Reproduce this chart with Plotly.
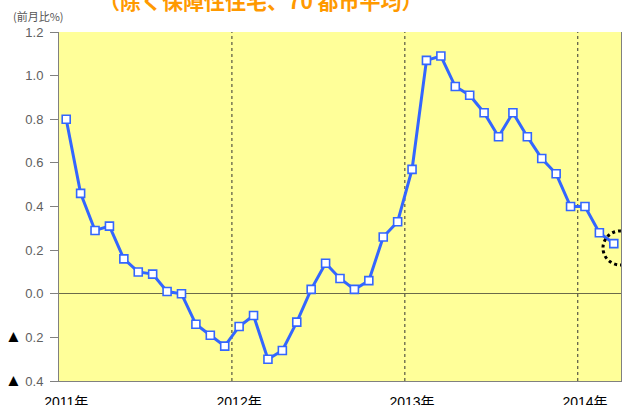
import plotly.graph_objects as go

# Monthly change, Jan 2011 - Mar 2014 (%)
years = [2011] * 12 + [2012] * 12 + [2013] * 12 + [2014] * 3
months = list(range(1, 13)) * 3 + [1, 2, 3]
values = [
    0.80, 0.46, 0.29, 0.31, 0.16, 0.10, 0.09, 0.01, 0.00, -0.14, -0.19, -0.24,
    -0.15, -0.10, -0.30, -0.26, -0.13, 0.02, 0.14, 0.07, 0.02, 0.06, 0.26, 0.33,
    0.57, 1.07, 1.09, 0.95, 0.91, 0.83, 0.72, 0.83, 0.72, 0.62, 0.55, 0.40,
    0.40, 0.28, 0.23,
]
ytick_vals = [1.2, 1.0, 0.8, 0.6, 0.4, 0.2, 0.0, -0.2, -0.4]
tri = '<span style="color:#000000;font-size:17px">▲</span>'
ytick_text = ["1.2", "1.0", "0.8", "0.6", "0.4", "0.2", "0.0",
              tri + " 0.2", tri + " 0.4"]
title_text = "（除く保障性住宅、70 都市平均）"
unit_text = "(前月比%)"

idx = list(range(len(values)))
year_starts = [i for i in idx if months[i] == 1]
year_labels = [f"{years[i]}年" for i in year_starts]

blue = "#3366FF"
fig = go.Figure()
fig.add_trace(go.Scatter(
    x=idx, y=values, mode="lines+markers",
    line=dict(color=blue, width=3),
    marker=dict(symbol="square", size=8, color="white",
                line=dict(color=blue, width=1.6)),
    hoverinfo="skip", showlegend=False,
))

shapes = []
for i in year_starts[1:]:
    shapes.append(dict(type="line", xref="x", yref="paper", x0=i - 0.5, x1=i - 0.5,
                       y0=0, y1=1, line=dict(color="#333333", width=1, dash="dot"),
                       layer="below"))
# highlight circle around latest point
last = len(values) - 1
shapes.append(dict(type="circle", xref="x", yref="y",
                   x0=last + 0.45 - 1.2, x1=last + 0.45 + 1.2,
                   y0=values[-1] - 0.02 - 0.078, y1=values[-1] - 0.02 + 0.078,
                   line=dict(color="#000000", width=3, dash="dot")))

fig.update_layout(
    width=625, height=405,
    margin=dict(l=59, r=4, t=32, b=24),
    paper_bgcolor="white", plot_bgcolor="#FFFF99",
    shapes=shapes,
    xaxis=dict(range=[-0.5, len(values) - 0.5], tickvals=year_starts, ticktext=year_labels,
               showgrid=False, zeroline=False, showline=True, linecolor="#808080",
               linewidth=1, ticks="", ticklabelstandoff=8, automargin=False,
               tickfont=dict(family="Liberation Sans, Noto Sans CJK JP", size=14, color="#000000")),
    yaxis=dict(range=[-0.4, 1.2], tickvals=ytick_vals, ticktext=ytick_text,
               showgrid=False, zeroline=True, zerolinecolor="#6B6B4A", zerolinewidth=1,
               showline=True, linecolor="#808080", linewidth=1, mirror=True, automargin=False,
               ticks="outside", ticklen=8, tickcolor="#808080", ticklabelstandoff=4,
               tickfont=dict(family="Liberation Sans, Noto Sans CJK JP", size=13, color="#606060")),
    annotations=[
        dict(text=title_text, xref="paper", yref="paper", x=0.36, y=1, yanchor="middle",
             xanchor="center", yshift=32, showarrow=False,
             font=dict(family="Noto Sans CJK JP", size=21, color="#FF9900", weight="bold")),
        dict(text=unit_text, xref="paper", yref="paper", x=0, y=1, xanchor="left",
             yanchor="middle", xshift=-48, yshift=16, showarrow=False,
             font=dict(family="Noto Sans CJK JP", size=11, color="#555555")),
    ],
)
fig.write_html("out.html")
